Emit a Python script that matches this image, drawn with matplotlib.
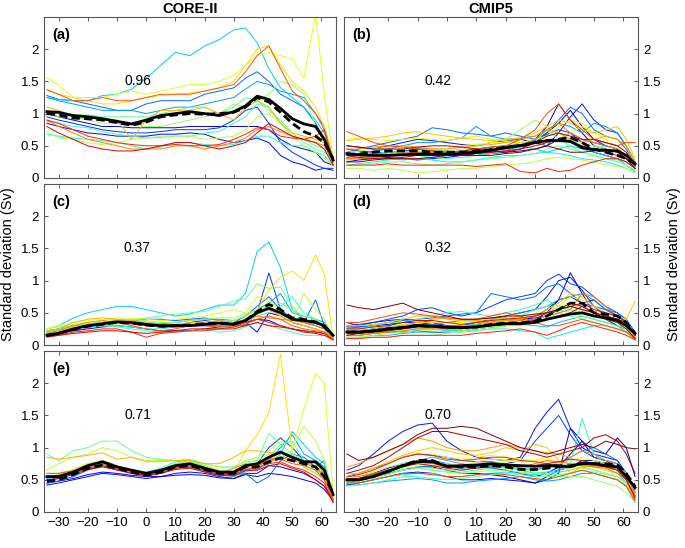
import numpy as np
import matplotlib
matplotlib.use("Agg")
import matplotlib.pyplot as plt

plt.rcParams['font.family'] = ['Liberation Sans', 'DejaVu Sans']

# latitude grid (finer in the north where the curves change fast)
lat = [-34, -30, -25, -20, -15, -10, -5, 0, 5, 10, 15, 20, 25, 30, 34, 38, 42, 46, 50, 54, 58, 61, 64]

# ---- CORE-II, panel (a): models ordered roughly blue -> red
core_a = [
    [1.0, 0.95, 0.9, 0.85, 0.8, 0.8, 0.78, 0.78, 0.78, 0.78, 0.8, 0.8, 0.8, 0.8, 0.8, 0.8, 0.75, 0.6, 0.5, 0.45, 0.4, 0.25, 0.2],
    [0.85, 0.8, 0.75, 0.7, 0.68, 0.65, 0.65, 0.65, 0.68, 0.68, 0.7, 0.68, 0.6, 0.55, 0.58, 0.62, 0.55, 0.35, 0.25, 0.2, 0.12, 0.15, 0.12],
    [0.95, 0.9, 0.85, 0.8, 0.75, 0.72, 0.7, 0.7, 0.72, 0.75, 0.75, 0.75, 0.78, 0.9, 1.05, 1.1, 0.85, 0.55, 0.4, 0.3, 0.2, 0.15, 0.15],
    [1.28, 1.22, 1.2, 1.15, 1.1, 1.05, 1.05, 1.15, 1.2, 1.2, 1.2, 1.3, 1.35, 1.4, 1.55, 1.65, 1.5, 1.3, 1.2, 1.1, 0.85, 0.6, 0.25],
    [1.25, 1.2, 1.15, 1.1, 1.05, 1.05, 1.05, 1.0, 1.05, 1.1, 1.1, 1.15, 1.2, 1.25, 1.38, 1.5, 1.45, 1.35, 1.3, 1.25, 1.0, 0.8, 0.3],
    [1.25, 1.22, 1.2, 1.2, 1.28, 1.3, 1.38, 1.55, 1.75, 1.95, 1.9, 2.05, 2.15, 2.3, 2.33, 2.1, 1.7, 1.4, 1.25, 1.1, 0.9, 0.7, 0.3],
    [0.68, 0.65, 0.62, 0.6, 0.58, 0.55, 0.5, 0.45, 0.48, 0.55, 0.55, 0.52, 0.5, 0.52, 0.58, 0.65, 0.65, 0.55, 0.5, 0.5, 0.4, 0.35, 0.2],
    [0.88, 0.85, 0.8, 0.78, 0.72, 0.68, 0.65, 0.62, 0.63, 0.65, 0.65, 0.7, 0.72, 0.85, 0.95, 1.15, 1.1, 0.85, 0.65, 0.6, 0.5, 0.45, 0.3],
    [1.05, 1.0, 0.98, 0.98, 0.95, 0.95, 0.95, 0.95, 1.0, 1.05, 1.1, 1.1, 1.0, 1.1, 1.25, 1.2, 1.05, 0.9, 0.7, 0.55, 0.45, 0.4, 0.3],
    [1.0, 0.95, 0.95, 0.9, 0.85, 0.85, 0.82, 0.8, 0.8, 0.85, 0.9, 0.95, 1.0, 1.15, 1.1, 1.2, 1.3, 1.5, 1.45, 1.3, 0.8, 0.55, 0.3],
    [0.72, 0.62, 0.6, 0.55, 0.52, 0.55, 0.6, 0.62, 0.65, 0.65, 0.65, 0.6, 0.62, 0.65, 0.75, 0.95, 1.0, 0.85, 0.65, 0.5, 0.4, 0.3, 0.2],
    [1.55, 1.45, 1.25, 1.25, 1.25, 1.3, 1.35, 1.3, 1.35, 1.4, 1.45, 1.45, 1.5, 1.6, 1.75, 1.9, 1.95, 1.9, 1.85, 1.55, 2.55, 1.3, 0.3],
    [1.37, 1.3, 1.25, 1.2, 1.15, 1.15, 1.2, 1.25, 1.28, 1.3, 1.32, 1.35, 1.4, 1.5, 1.75, 2.0, 2.05, 1.75, 1.5, 1.35, 1.1, 0.8, 0.3],
    [1.1, 1.05, 0.95, 0.95, 0.9, 0.9, 0.6, 0.9, 1.05, 1.05, 1.05, 1.1, 1.0, 0.9, 1.1, 1.2, 1.1, 0.85, 0.7, 0.65, 0.6, 0.55, 0.25],
    [0.9, 0.8, 0.7, 0.6, 0.55, 0.5, 0.45, 0.45, 0.45, 0.5, 0.5, 0.45, 0.5, 0.55, 0.62, 0.75, 0.8, 0.72, 0.65, 0.6, 0.55, 0.5, 0.25],
    [1.37, 1.3, 1.2, 1.2, 1.25, 1.2, 1.2, 1.25, 1.3, 1.3, 1.3, 1.35, 1.4, 1.45, 1.65, 1.9, 2.05, 1.7, 1.35, 1.2, 1.0, 0.75, 0.3],
    [0.9, 0.85, 0.75, 0.65, 0.6, 0.55, 0.52, 0.5, 0.5, 0.52, 0.5, 0.5, 0.52, 0.6, 0.68, 0.78, 0.75, 0.65, 0.62, 0.6, 0.65, 0.75, 0.2],
    [0.8, 0.7, 0.6, 0.5, 0.45, 0.42, 0.42, 0.45, 0.5, 0.55, 0.55, 0.5, 0.45, 0.5, 0.55, 0.7, 0.85, 0.75, 0.65, 0.6, 0.55, 0.45, 0.2],
]
core_a_mean = [1.03, 1.02, 0.97, 0.95, 0.92, 0.88, 0.84, 0.9, 0.97, 1.0, 1.03, 1.0, 0.97, 1.03, 1.12, 1.27, 1.22, 1.08, 0.92, 0.84, 0.8, 0.6, 0.28]
core_a_obs = [1.0, 0.98, 0.93, 0.92, 0.9, 0.86, 0.82, 0.87, 0.95, 0.98, 1.0, 0.99, 1.0, 1.02, 1.1, 1.25, 1.18, 1.02, 0.85, 0.72, 0.65, 0.55, 0.3]

# ---- CORE-II, panel (c)
core_c = [
    [0.15, 0.18, 0.22, 0.25, 0.28, 0.3, 0.28, 0.25, 0.22, 0.22, 0.22, 0.25, 0.28, 0.3, 0.35, 0.4, 0.38, 0.3, 0.25, 0.22, 0.2, 0.18, 0.1],
    [0.18, 0.2, 0.25, 0.3, 0.32, 0.35, 0.33, 0.3, 0.28, 0.28, 0.3, 0.3, 0.3, 0.32, 0.35, 0.2, 0.5, 0.45, 0.35, 0.3, 0.25, 0.2, 0.1],
    [0.2, 0.22, 0.28, 0.32, 0.35, 0.38, 0.35, 0.32, 0.3, 0.3, 0.35, 0.38, 0.35, 0.3, 0.3, 0.5, 1.12, 0.55, 0.4, 0.35, 0.3, 0.25, 0.1],
    [0.22, 0.25, 0.3, 0.32, 0.33, 0.35, 0.38, 0.4, 0.4, 0.38, 0.4, 0.42, 0.38, 0.35, 0.45, 0.6, 0.75, 0.55, 0.4, 0.35, 0.7, 0.3, 0.12],
    [0.2, 0.25, 0.3, 0.32, 0.35, 0.38, 0.38, 0.35, 0.33, 0.35, 0.38, 0.4, 0.4, 0.38, 0.45, 0.55, 0.65, 0.8, 0.5, 0.45, 0.4, 0.35, 0.15],
    [0.25, 0.3, 0.42, 0.5, 0.55, 0.6, 0.6, 0.55, 0.5, 0.45, 0.48, 0.55, 0.62, 0.62, 0.8, 1.45, 1.6, 1.2, 0.55, 0.4, 0.3, 0.25, 0.1],
    [0.18, 0.2, 0.25, 0.28, 0.3, 0.3, 0.28, 0.25, 0.25, 0.28, 0.3, 0.3, 0.28, 0.3, 0.35, 0.45, 0.5, 0.6, 0.75, 0.5, 0.4, 0.3, 0.12],
    [0.2, 0.22, 0.28, 0.3, 0.3, 0.28, 0.25, 0.22, 0.2, 0.2, 0.22, 0.25, 0.2, 0.22, 0.28, 0.35, 0.3, 0.25, 0.2, 0.15, 0.15, 0.15, 0.1],
    [0.22, 0.25, 0.3, 0.33, 0.35, 0.38, 0.4, 0.42, 0.45, 0.48, 0.5, 0.52, 0.6, 0.68, 0.72, 0.95, 0.88, 0.9, 0.6, 0.4, 0.35, 0.3, 0.12],
    [0.25, 0.28, 0.32, 0.35, 0.38, 0.4, 0.4, 0.38, 0.35, 0.35, 0.38, 0.4, 0.42, 0.42, 0.48, 0.55, 0.62, 0.65, 0.55, 0.45, 0.4, 0.3, 0.12],
    [0.2, 0.22, 0.28, 0.3, 0.32, 0.33, 0.33, 0.32, 0.3, 0.3, 0.3, 0.32, 0.35, 0.38, 0.45, 0.55, 0.6, 0.45, 0.35, 0.8, 0.55, 0.4, 0.15],
    [0.25, 0.3, 0.35, 0.38, 0.4, 0.42, 0.42, 0.4, 0.38, 0.4, 0.42, 0.45, 0.5, 0.55, 0.5, 0.75, 0.7, 0.5, 0.4, 0.3, 0.25, 0.2, 0.1],
    [0.2, 0.22, 0.28, 0.32, 0.35, 0.38, 0.38, 0.35, 0.32, 0.32, 0.33, 0.35, 0.35, 0.33, 0.35, 0.55, 0.85, 1.05, 1.15, 1.0, 1.4, 1.1, 0.1],
    [0.2, 0.25, 0.35, 0.4, 0.42, 0.4, 0.38, 0.35, 0.32, 0.32, 0.35, 0.35, 0.38, 0.35, 0.4, 0.5, 0.55, 0.45, 0.35, 0.3, 0.25, 0.2, 0.1],
    [0.18, 0.22, 0.3, 0.35, 0.38, 0.35, 0.33, 0.3, 0.28, 0.28, 0.3, 0.32, 0.3, 0.32, 0.38, 0.45, 0.42, 0.4, 0.38, 0.35, 0.3, 0.25, 0.1],
    [0.15, 0.18, 0.25, 0.3, 0.33, 0.35, 0.3, 0.25, 0.22, 0.25, 0.3, 0.3, 0.28, 0.28, 0.32, 0.4, 0.45, 0.4, 0.3, 0.25, 0.22, 0.2, 0.08],
    [0.12, 0.15, 0.2, 0.22, 0.25, 0.25, 0.2, 0.12, 0.18, 0.2, 0.22, 0.22, 0.25, 0.28, 0.35, 0.4, 0.35, 0.3, 0.25, 0.22, 0.2, 0.18, 0.08],
    [0.13, 0.15, 0.18, 0.2, 0.22, 0.22, 0.2, 0.18, 0.2, 0.22, 0.25, 0.25, 0.25, 0.25, 0.3, 0.35, 0.3, 0.28, 0.25, 0.2, 0.18, 0.15, 0.08],
]
core_c_mean = [0.15, 0.18, 0.25, 0.3, 0.33, 0.36, 0.35, 0.32, 0.3, 0.3, 0.3, 0.32, 0.34, 0.32, 0.38, 0.5, 0.57, 0.5, 0.4, 0.38, 0.35, 0.3, 0.15]
core_c_obs = [0.15, 0.18, 0.24, 0.29, 0.32, 0.35, 0.34, 0.31, 0.29, 0.3, 0.31, 0.33, 0.34, 0.33, 0.38, 0.52, 0.63, 0.55, 0.42, 0.4, 0.36, 0.28, 0.15]

# ---- CORE-II, panel (e)
core_e = [
    [0.45, 0.48, 0.52, 0.58, 0.62, 0.6, 0.57, 0.55, 0.55, 0.57, 0.58, 0.57, 0.53, 0.52, 0.6, 0.6, 0.72, 0.7, 0.65, 0.6, 0.5, 0.4, 0.2],
    [0.42, 0.45, 0.5, 0.55, 0.6, 0.58, 0.55, 0.52, 0.55, 0.6, 0.62, 0.6, 0.55, 0.52, 0.58, 0.55, 0.6, 0.58, 0.55, 0.5, 0.45, 0.35, 0.18],
    [0.5, 0.52, 0.6, 0.7, 0.75, 0.7, 0.63, 0.58, 0.62, 0.7, 0.72, 0.65, 0.58, 0.58, 0.7, 0.75, 1.0, 1.15, 1.0, 0.8, 0.7, 0.55, 0.25],
    [0.45, 0.48, 0.55, 0.65, 0.72, 0.68, 0.62, 0.57, 0.6, 0.68, 0.7, 0.63, 0.57, 0.57, 0.6, 0.45, 0.55, 0.8, 0.9, 0.85, 0.7, 0.8, 0.25],
    [0.52, 0.55, 0.62, 0.72, 0.8, 0.72, 0.65, 0.6, 0.63, 0.7, 0.75, 0.68, 0.6, 0.6, 0.7, 0.65, 0.8, 1.0, 1.2, 0.9, 0.8, 0.7, 0.3],
    [0.5, 0.52, 0.6, 0.68, 0.72, 0.68, 0.62, 0.57, 0.62, 0.7, 0.72, 0.65, 0.58, 0.55, 0.65, 0.7, 0.75, 0.9, 1.25, 1.05, 0.85, 0.75, 0.3],
    [0.55, 0.58, 0.65, 0.72, 0.75, 0.7, 0.65, 0.62, 0.68, 0.78, 0.8, 0.72, 0.6, 0.55, 0.62, 0.7, 0.8, 0.85, 0.9, 0.7, 0.6, 0.5, 0.25],
    [0.55, 0.57, 0.63, 0.7, 0.75, 0.7, 0.63, 0.6, 0.65, 0.75, 0.8, 0.7, 0.62, 0.6, 0.7, 0.75, 0.85, 1.05, 1.1, 0.8, 0.65, 0.55, 0.25],
    [0.9, 0.8, 0.95, 1.0, 1.1, 1.1, 0.95, 0.85, 0.82, 0.8, 0.82, 0.75, 0.7, 0.7, 0.78, 0.8, 1.22, 1.05, 0.9, 0.8, 0.7, 0.6, 0.3],
    [0.6, 0.6, 0.65, 0.75, 0.78, 0.72, 0.65, 0.6, 0.65, 0.75, 0.78, 0.72, 0.65, 0.62, 0.75, 0.8, 0.9, 0.95, 0.85, 0.8, 0.75, 0.6, 0.25],
    [0.65, 0.75, 0.85, 0.9, 1.0, 0.95, 0.85, 0.8, 0.8, 0.8, 0.8, 0.75, 0.7, 0.68, 0.8, 0.85, 0.95, 1.1, 1.0, 1.33, 1.1, 0.8, 0.3],
    [0.55, 0.57, 0.63, 0.72, 0.78, 0.72, 0.65, 0.6, 0.65, 0.72, 0.75, 0.7, 0.62, 0.6, 0.7, 0.75, 0.85, 0.85, 0.95, 1.6, 2.15, 2.0, 0.3],
    [0.6, 0.6, 0.66, 0.75, 0.8, 0.72, 0.65, 0.6, 0.65, 0.73, 0.75, 0.68, 0.62, 0.62, 0.95, 1.2, 1.55, 2.45, 0.95, 0.7, 0.6, 0.5, 0.2],
    [0.85, 0.82, 0.85, 0.88, 0.92, 0.82, 0.85, 0.78, 0.78, 0.8, 0.8, 0.75, 0.75, 0.85, 0.95, 0.95, 0.92, 0.92, 0.85, 0.8, 0.7, 0.6, 0.3],
    [0.55, 0.57, 0.62, 0.7, 0.74, 0.68, 0.62, 0.58, 0.62, 0.7, 0.73, 0.67, 0.6, 0.68, 0.75, 0.72, 0.82, 0.85, 0.8, 0.75, 0.7, 0.55, 0.2],
    [0.6, 0.6, 0.64, 0.72, 0.78, 0.7, 0.63, 0.58, 0.63, 0.72, 0.74, 0.68, 0.6, 0.6, 0.72, 0.72, 0.8, 0.82, 0.75, 0.72, 0.65, 0.5, 0.18],
    [0.55, 0.55, 0.6, 0.68, 0.72, 0.66, 0.6, 0.56, 0.6, 0.68, 0.7, 0.64, 0.58, 0.58, 0.66, 0.68, 0.75, 0.78, 0.7, 0.65, 0.55, 0.45, 0.15],
    [0.5, 0.52, 0.58, 0.66, 0.7, 0.65, 0.6, 0.57, 0.6, 0.66, 0.68, 0.62, 0.57, 0.56, 0.64, 0.65, 0.72, 0.75, 0.68, 0.62, 0.5, 0.4, 0.15],
]
core_e_mean = [0.55, 0.55, 0.62, 0.72, 0.78, 0.7, 0.65, 0.6, 0.65, 0.72, 0.75, 0.68, 0.62, 0.62, 0.72, 0.75, 0.85, 0.93, 0.85, 0.78, 0.78, 0.65, 0.27]
core_e_obs = [0.48, 0.5, 0.58, 0.68, 0.73, 0.68, 0.62, 0.57, 0.62, 0.7, 0.72, 0.66, 0.6, 0.6, 0.7, 0.7, 0.78, 0.84, 0.8, 0.75, 0.7, 0.55, 0.3]

# ---- CMIP5, panel (b)
cmip_b = [
    [0.3, 0.32, 0.35, 0.35, 0.38, 0.4, 0.38, 0.35, 0.35, 0.38, 0.4, 0.42, 0.5, 0.6, 0.8, 1.15, 0.9, 0.7, 0.5, 0.45, 0.4, 0.3, 0.2],
    [0.45, 0.42, 0.4, 0.38, 0.4, 0.45, 0.42, 0.4, 0.42, 0.45, 0.48, 0.5, 0.52, 0.55, 0.7, 0.85, 1.05, 0.8, 0.6, 0.5, 0.45, 0.35, 0.2],
    [0.25, 0.28, 0.3, 0.32, 0.3, 0.28, 0.3, 0.32, 0.35, 0.35, 0.38, 0.4, 0.42, 0.45, 0.5, 0.6, 0.7, 0.55, 0.4, 0.35, 0.3, 0.25, 0.15],
    [0.5, 0.48, 0.45, 0.5, 0.55, 0.6, 0.58, 0.55, 0.52, 0.5, 0.55, 0.58, 0.6, 0.55, 0.5, 0.7, 0.95, 1.15, 0.9, 0.75, 0.7, 0.5, 0.25],
    [0.32, 0.35, 0.38, 0.4, 0.42, 0.45, 0.45, 0.42, 0.4, 0.42, 0.45, 0.48, 0.52, 0.58, 0.68, 0.75, 0.7, 0.6, 0.55, 0.5, 0.45, 0.35, 0.18],
    [0.4, 0.45, 0.5, 0.55, 0.6, 0.65, 0.78, 0.75, 0.7, 0.68, 0.65, 0.7, 0.65, 0.6, 0.7, 0.9, 1.1, 1.0, 0.75, 0.65, 0.6, 0.45, 0.2],
    [0.35, 0.38, 0.42, 0.45, 0.5, 0.55, 0.55, 0.58, 0.62, 0.8, 0.65, 0.6, 0.62, 0.65, 0.75, 0.85, 0.8, 0.7, 0.85, 0.8, 0.7, 0.5, 0.25],
    [0.3, 0.3, 0.32, 0.3, 0.28, 0.3, 0.32, 0.35, 0.38, 0.4, 0.42, 0.45, 0.5, 0.45, 0.4, 0.45, 0.5, 0.45, 0.4, 0.35, 0.3, 0.2, 0.1],
    [0.2, 0.22, 0.25, 0.28, 0.3, 0.3, 0.28, 0.25, 0.25, 0.28, 0.32, 0.35, 0.35, 0.38, 0.4, 0.38, 0.35, 0.3, 0.28, 0.25, 0.2, 0.15, 0.08],
    [0.35, 0.35, 0.38, 0.4, 0.42, 0.4, 0.38, 0.35, 0.38, 0.4, 0.45, 0.5, 0.55, 0.6, 0.65, 0.7, 0.6, 0.5, 0.45, 0.5, 0.45, 0.35, 0.2],
    [0.28, 0.3, 0.32, 0.35, 0.38, 0.35, 0.32, 0.3, 0.32, 0.35, 0.38, 0.42, 0.48, 0.55, 0.75, 0.6, 0.5, 0.4, 0.35, 0.3, 0.28, 0.2, 0.12],
    [0.2, 0.2, 0.22, 0.25, 0.25, 0.22, 0.2, 0.22, 0.25, 0.28, 0.3, 0.32, 0.35, 0.38, 0.45, 0.5, 0.45, 0.4, 0.35, 0.3, 0.25, 0.2, 0.12],
    [0.4, 0.42, 0.45, 0.48, 0.5, 0.48, 0.45, 0.42, 0.45, 0.5, 0.55, 0.6, 0.75, 0.9, 0.8, 0.7, 0.6, 0.55, 0.5, 0.45, 0.4, 0.3, 0.15],
    [0.15, 0.15, 0.12, 0.15, 0.12, 0.08, 0.1, 0.12, 0.15, 0.15, 0.18, 0.2, 0.22, 0.25, 0.3, 0.32, 0.3, 0.28, 0.25, 0.2, 0.18, 0.15, 0.08],
    [0.3, 0.32, 0.35, 0.38, 0.4, 0.42, 0.45, 0.45, 0.5, 0.52, 0.55, 0.55, 0.55, 0.5, 0.55, 0.6, 0.7, 0.8, 0.7, 0.6, 0.5, 0.4, 0.2],
    [0.6, 0.62, 0.6, 0.58, 0.6, 0.62, 0.6, 0.58, 0.62, 0.65, 0.6, 0.58, 0.55, 0.6, 0.65, 0.8, 0.9, 0.85, 0.7, 0.65, 0.6, 0.5, 0.25],
    [0.58, 0.6, 0.62, 0.65, 0.7, 0.72, 0.68, 0.65, 0.62, 0.6, 0.58, 0.6, 0.62, 0.7, 0.8, 0.9, 0.85, 0.75, 0.7, 0.75, 0.8, 0.6, 0.3],
    [0.45, 0.45, 0.48, 0.5, 0.5, 0.48, 0.45, 0.45, 0.48, 0.5, 0.52, 0.55, 0.6, 0.65, 0.75, 0.7, 0.6, 0.55, 0.6, 0.65, 0.6, 0.5, 0.25],
    [0.3, 0.3, 0.32, 0.35, 0.38, 0.4, 0.4, 0.38, 0.38, 0.4, 0.42, 0.45, 0.5, 0.6, 0.75, 0.85, 0.7, 0.6, 0.55, 0.5, 0.45, 0.35, 0.2],
    [0.72, 0.65, 0.55, 0.5, 0.48, 0.45, 0.42, 0.4, 0.42, 0.45, 0.48, 0.5, 0.6, 0.75, 1.0, 1.15, 0.9, 0.75, 0.6, 0.55, 0.5, 0.55, 0.55],
    [0.2, 0.2, 0.2, 0.22, 0.2, 0.2, 0.2, 0.2, 0.2, 0.18, 0.2, 0.22, 0.1, 0.08, 0.15, 0.1, 0.12, 0.2, 0.25, 0.3, 0.3, 0.25, 0.15],
    [0.35, 0.32, 0.3, 0.3, 0.32, 0.35, 0.35, 0.35, 0.35, 0.38, 0.4, 0.42, 0.45, 0.5, 0.55, 0.6, 0.55, 0.5, 0.45, 0.4, 0.35, 0.3, 0.15],
    [0.5, 0.48, 0.45, 0.45, 0.45, 0.48, 0.5, 0.5, 0.48, 0.45, 0.42, 0.4, 0.45, 0.55, 0.65, 0.7, 0.65, 0.6, 0.6, 0.55, 0.5, 0.4, 0.2],
    [0.25, 0.25, 0.28, 0.3, 0.3, 0.3, 0.32, 0.35, 0.35, 0.35, 0.35, 0.38, 0.4, 0.45, 0.5, 0.45, 0.4, 0.4, 0.42, 0.45, 0.4, 0.3, 0.15],
]
cmip_b_mean = [0.38, 0.36, 0.35, 0.35, 0.36, 0.37, 0.37, 0.37, 0.38, 0.4, 0.43, 0.47, 0.5, 0.55, 0.58, 0.58, 0.57, 0.47, 0.44, 0.43, 0.42, 0.35, 0.22]
cmip_b_obs = [0.37, 0.37, 0.4, 0.42, 0.42, 0.42, 0.4, 0.4, 0.4, 0.42, 0.44, 0.48, 0.5, 0.55, 0.58, 0.6, 0.63, 0.55, 0.45, 0.4, 0.35, 0.3, 0.22]

# ---- CMIP5, panel (d)
cmip_d = [
    [0.15, 0.15, 0.18, 0.2, 0.2, 0.22, 0.2, 0.2, 0.22, 0.25, 0.28, 0.3, 0.35, 0.4, 0.5, 0.7, 1.12, 0.8, 0.5, 0.4, 0.3, 0.25, 0.1],
    [0.22, 0.22, 0.25, 0.28, 0.3, 0.32, 0.3, 0.28, 0.3, 0.35, 0.4, 0.42, 0.38, 0.45, 0.55, 0.7, 0.75, 0.65, 0.7, 0.55, 0.45, 0.35, 0.15],
    [0.28, 0.28, 0.3, 0.32, 0.35, 0.35, 0.32, 0.3, 0.3, 0.32, 0.35, 0.38, 0.4, 0.42, 0.45, 0.55, 0.65, 0.6, 0.5, 0.45, 0.4, 0.3, 0.12],
    [0.35, 0.3, 0.35, 0.38, 0.4, 0.38, 0.35, 0.3, 0.28, 0.3, 0.4, 0.45, 0.5, 0.55, 0.75, 1.0, 1.05, 0.85, 0.6, 0.45, 0.4, 0.3, 0.15],
    [0.3, 0.32, 0.35, 0.4, 0.45, 0.55, 0.58, 0.5, 0.45, 0.5, 0.6, 0.7, 0.75, 0.8, 1.0, 1.1, 0.95, 0.9, 0.75, 0.6, 0.5, 0.4, 0.2],
    [0.25, 0.28, 0.3, 0.35, 0.38, 0.4, 0.42, 0.45, 0.48, 0.5, 0.8, 0.75, 0.7, 0.75, 0.9, 0.95, 0.8, 0.65, 0.6, 0.55, 0.5, 0.35, 0.15],
    [0.2, 0.2, 0.22, 0.25, 0.28, 0.3, 0.32, 0.35, 0.38, 0.4, 0.42, 0.45, 0.5, 0.55, 0.6, 0.7, 0.75, 0.8, 0.7, 0.55, 0.45, 0.35, 0.15],
    [0.12, 0.12, 0.15, 0.15, 0.18, 0.2, 0.2, 0.22, 0.22, 0.25, 0.28, 0.3, 0.32, 0.3, 0.28, 0.35, 0.4, 0.45, 0.4, 0.35, 0.3, 0.2, 0.08],
    [0.18, 0.18, 0.2, 0.22, 0.25, 0.25, 0.25, 0.22, 0.22, 0.22, 0.25, 0.25, 0.22, 0.2, 0.1, 0.15, 0.2, 0.25, 0.3, 0.3, 0.25, 0.2, 0.1],
    [0.22, 0.25, 0.3, 0.35, 0.35, 0.4, 0.45, 0.5, 0.52, 0.48, 0.45, 0.5, 0.55, 0.62, 0.7, 0.6, 0.55, 0.5, 0.45, 0.4, 0.35, 0.3, 0.15],
    [0.2, 0.22, 0.25, 0.28, 0.3, 0.3, 0.28, 0.28, 0.3, 0.32, 0.35, 0.4, 0.45, 0.55, 0.6, 0.55, 0.5, 0.45, 0.4, 0.35, 0.3, 0.25, 0.1],
    [0.1, 0.1, 0.12, 0.12, 0.15, 0.15, 0.15, 0.18, 0.2, 0.22, 0.25, 0.3, 0.35, 0.4, 0.45, 0.5, 0.45, 0.4, 0.35, 0.3, 0.25, 0.2, 0.1],
    [0.15, 0.15, 0.18, 0.2, 0.22, 0.25, 0.25, 0.25, 0.28, 0.3, 0.32, 0.35, 0.38, 0.35, 0.4, 0.5, 0.55, 0.5, 0.45, 0.4, 0.35, 0.25, 0.1],
    [0.12, 0.12, 0.15, 0.18, 0.2, 0.22, 0.22, 0.2, 0.22, 0.25, 0.28, 0.3, 0.3, 0.35, 0.4, 0.45, 0.5, 0.4, 0.35, 0.3, 0.25, 0.2, 0.08],
    [0.18, 0.2, 0.22, 0.25, 0.28, 0.3, 0.3, 0.3, 0.32, 0.35, 0.38, 0.4, 0.42, 0.45, 0.5, 0.6, 0.65, 0.55, 0.45, 0.4, 0.35, 0.25, 0.1],
    [0.25, 0.25, 0.28, 0.3, 0.32, 0.35, 0.35, 0.35, 0.35, 0.38, 0.4, 0.42, 0.45, 0.48, 0.5, 0.6, 0.75, 0.7, 0.6, 0.5, 0.45, 0.35, 0.15],
    [0.3, 0.3, 0.32, 0.35, 0.4, 0.45, 0.45, 0.4, 0.38, 0.35, 0.35, 0.38, 0.4, 0.45, 0.55, 0.65, 0.8, 0.75, 0.6, 0.5, 0.45, 0.4, 0.68],
    [0.2, 0.2, 0.22, 0.25, 0.3, 0.35, 0.4, 0.42, 0.4, 0.38, 0.35, 0.38, 0.4, 0.45, 0.5, 0.55, 0.6, 0.55, 0.5, 0.45, 0.4, 0.3, 0.12],
    [0.15, 0.15, 0.18, 0.2, 0.22, 0.25, 0.25, 0.25, 0.28, 0.3, 0.32, 0.35, 0.38, 0.4, 0.45, 0.5, 0.55, 0.8, 0.75, 0.6, 0.45, 0.35, 0.15],
    [0.35, 0.35, 0.4, 0.45, 0.5, 0.48, 0.45, 0.42, 0.4, 0.4, 0.45, 0.5, 0.45, 0.35, 0.3, 0.3, 0.35, 0.4, 0.35, 0.3, 0.25, 0.2, 0.1],
    [0.1, 0.1, 0.12, 0.12, 0.15, 0.15, 0.15, 0.15, 0.15, 0.18, 0.2, 0.22, 0.25, 0.2, 0.15, 0.22, 0.3, 0.35, 0.3, 0.25, 0.2, 0.15, 0.08],
    [0.25, 0.25, 0.28, 0.3, 0.35, 0.38, 0.38, 0.35, 0.32, 0.35, 0.38, 0.4, 0.42, 0.45, 0.5, 0.55, 0.6, 0.65, 0.55, 0.5, 0.45, 0.35, 0.15],
    [0.15, 0.18, 0.2, 0.22, 0.25, 0.28, 0.28, 0.25, 0.25, 0.28, 0.3, 0.32, 0.35, 0.38, 0.4, 0.45, 0.5, 0.6, 0.5, 0.4, 0.35, 0.25, 0.1],
    [0.62, 0.58, 0.55, 0.6, 0.65, 0.55, 0.5, 0.45, 0.4, 0.4, 0.42, 0.45, 0.45, 0.48, 0.5, 0.55, 0.6, 0.55, 0.5, 0.45, 0.4, 0.35, 0.15],
]
cmip_d_mean = [0.2, 0.2, 0.22, 0.25, 0.27, 0.3, 0.29, 0.28, 0.27, 0.28, 0.31, 0.33, 0.33, 0.35, 0.4, 0.44, 0.48, 0.5, 0.45, 0.42, 0.38, 0.3, 0.18]
cmip_d_obs = [0.2, 0.2, 0.22, 0.25, 0.27, 0.3, 0.29, 0.28, 0.27, 0.28, 0.32, 0.34, 0.34, 0.37, 0.45, 0.55, 0.65, 0.65, 0.5, 0.48, 0.45, 0.35, 0.18]

# ---- CMIP5, panel (f)
cmip_f = [
    [0.45, 0.48, 0.55, 0.6, 0.65, 0.7, 0.7, 0.65, 0.6, 0.6, 0.58, 0.55, 0.5, 0.45, 0.5, 0.6, 1.3, 1.1, 0.95, 0.9, 1.15, 1.0, 0.55],
    [0.5, 0.52, 0.6, 0.68, 0.75, 0.8, 0.8, 0.75, 0.7, 0.7, 0.68, 0.65, 0.6, 0.55, 0.6, 0.7, 0.9, 1.1, 0.85, 0.8, 0.75, 0.6, 0.35],
    [0.42, 0.45, 0.5, 0.55, 0.6, 0.62, 0.6, 0.55, 0.5, 0.5, 0.52, 0.5, 0.48, 0.45, 0.55, 0.65, 0.7, 0.8, 0.8, 0.75, 0.65, 0.5, 0.25],
    [0.65, 0.72, 0.9, 1.1, 1.25, 1.35, 1.38, 1.1, 0.95, 0.85, 0.82, 0.8, 0.85, 1.3, 1.55, 1.75, 1.3, 1.0, 0.9, 0.85, 0.8, 0.6, 0.3],
    [0.55, 0.6, 0.68, 0.75, 0.85, 0.9, 0.88, 0.85, 0.8, 0.78, 0.78, 0.75, 0.8, 1.1, 1.3, 1.5, 1.2, 0.95, 0.85, 0.8, 0.7, 0.55, 0.25],
    [0.48, 0.5, 0.55, 0.6, 0.65, 0.7, 0.72, 0.7, 0.68, 0.7, 0.72, 0.7, 0.68, 0.65, 0.7, 0.75, 0.85, 0.95, 1.0, 0.9, 0.8, 0.6, 0.3],
    [0.42, 0.42, 0.45, 0.48, 0.5, 0.52, 0.5, 0.45, 0.45, 0.48, 0.5, 0.52, 0.55, 0.5, 0.48, 0.5, 0.55, 0.6, 0.6, 0.55, 0.5, 0.4, 0.15],
    [0.5, 0.52, 0.58, 0.65, 0.72, 0.8, 0.85, 0.8, 0.75, 0.72, 0.7, 0.7, 0.65, 0.6, 0.62, 0.65, 0.7, 0.75, 0.7, 0.65, 0.6, 0.45, 0.2],
    [0.45, 0.45, 0.5, 0.55, 0.58, 0.6, 0.6, 0.55, 0.55, 0.58, 0.6, 0.62, 0.6, 0.58, 0.6, 0.62, 0.65, 0.7, 0.65, 0.6, 0.55, 0.45, 0.2],
    [0.5, 0.5, 0.55, 0.6, 0.65, 0.68, 0.65, 0.62, 0.62, 0.65, 0.68, 0.7, 0.68, 0.65, 0.68, 0.7, 0.75, 1.45, 0.9, 0.75, 0.65, 0.5, 0.22],
    [0.4, 0.42, 0.45, 0.5, 0.55, 0.55, 0.52, 0.5, 0.52, 0.55, 0.58, 0.6, 0.58, 0.55, 0.55, 0.55, 0.6, 0.65, 0.6, 0.55, 0.5, 0.4, 0.18],
    [0.48, 0.5, 0.55, 0.62, 0.68, 0.7, 0.68, 0.65, 0.65, 0.68, 0.7, 0.68, 0.65, 0.62, 0.6, 0.58, 0.6, 0.65, 0.62, 0.58, 0.55, 0.42, 0.2],
    [0.45, 0.48, 0.52, 0.58, 0.65, 0.68, 0.65, 0.62, 0.6, 0.62, 0.65, 0.65, 0.62, 0.6, 0.58, 0.55, 0.55, 0.55, 0.5, 0.45, 0.4, 0.3, 0.15],
    [0.55, 0.58, 0.62, 0.7, 0.75, 0.8, 0.78, 0.75, 0.72, 0.72, 0.75, 0.78, 0.8, 0.78, 0.75, 0.72, 0.7, 0.68, 0.65, 0.6, 0.55, 0.45, 0.2],
    [0.55, 0.58, 0.65, 0.75, 0.85, 0.92, 0.9, 0.85, 0.82, 0.85, 0.88, 0.85, 0.82, 0.8, 0.78, 0.75, 0.8, 0.85, 0.8, 0.75, 0.7, 0.55, 0.25],
    [0.5, 0.52, 0.58, 0.65, 0.72, 0.75, 0.72, 0.7, 0.72, 0.78, 0.82, 0.8, 0.78, 0.8, 0.85, 0.72, 0.65, 0.72, 0.7, 0.65, 0.6, 0.5, 0.22],
    [0.6, 0.6, 0.68, 0.78, 0.88, 0.95, 1.0, 0.95, 0.9, 0.88, 0.92, 1.0, 0.95, 1.05, 1.0, 0.8, 0.6, 0.7, 0.75, 0.7, 0.65, 0.5, 0.25],
    [0.7, 0.75, 0.85, 0.95, 1.05, 1.15, 1.1, 1.0, 0.95, 0.95, 1.0, 1.05, 1.0, 0.95, 0.92, 0.9, 0.85, 0.95, 0.9, 0.8, 0.75, 0.6, 0.3],
    [0.55, 0.55, 0.6, 0.65, 0.72, 0.78, 0.75, 0.72, 0.7, 0.72, 0.75, 0.72, 0.7, 0.75, 0.8, 0.78, 0.75, 0.72, 0.7, 0.68, 0.6, 0.5, 0.2],
    [0.45, 0.45, 0.5, 0.55, 0.6, 0.6, 0.58, 0.55, 0.55, 0.58, 0.6, 0.58, 0.55, 0.52, 0.5, 0.55, 0.6, 0.65, 0.6, 0.55, 0.5, 0.4, 0.18],
    [0.55, 0.58, 0.65, 0.75, 0.85, 0.9, 0.88, 0.82, 0.8, 0.82, 0.85, 0.85, 0.8, 0.78, 0.75, 0.7, 0.7, 0.75, 0.72, 0.7, 0.65, 0.5, 0.25],
    [0.5, 0.52, 0.58, 0.65, 0.7, 0.75, 0.72, 0.68, 0.65, 0.68, 0.7, 0.72, 0.7, 0.72, 0.75, 0.78, 0.82, 0.8, 0.75, 0.7, 0.65, 0.5, 0.22],
    [0.6, 0.65, 0.72, 0.85, 1.0, 1.15, 1.25, 1.25, 1.2, 1.15, 1.1, 1.05, 0.95, 0.9, 0.85, 0.9, 0.95, 1.0, 1.15, 1.2, 1.1, 0.9, 0.6],
    [0.9, 0.8, 0.85, 0.95, 1.05, 1.2, 1.3, 1.3, 1.33, 1.3, 1.2, 1.1, 1.0, 0.95, 0.9, 0.95, 1.0, 1.05, 1.0, 1.1, 1.05, 1.0, 0.98],
]
cmip_f_mean = [0.5, 0.5, 0.55, 0.63, 0.72, 0.78, 0.78, 0.71, 0.72, 0.73, 0.75, 0.73, 0.72, 0.71, 0.72, 0.72, 0.7, 0.76, 0.75, 0.72, 0.7, 0.55, 0.38]
cmip_f_obs = [0.5, 0.5, 0.55, 0.63, 0.72, 0.8, 0.8, 0.71, 0.7, 0.7, 0.72, 0.7, 0.66, 0.66, 0.68, 0.7, 0.72, 0.75, 0.75, 0.75, 0.73, 0.6, 0.4]

panel_tags = ["(a)", "(b)", "(c)", "(d)", "(e)", "(f)"]
corr_text = ["0.96", "0.42", "0.37", "0.32", "0.71", "0.70"]
xticks = [-30, -20, -10, 0, 10, 20, 30, 40, 50, 60]
yticks = [0, 0.5, 1, 1.5, 2]

panels = [
    (core_a, core_a_mean, core_a_obs),
    (cmip_b, cmip_b_mean, cmip_b_obs),
    (core_c, core_c_mean, core_c_obs),
    (cmip_d, cmip_d_mean, cmip_d_obs),
    (core_e, core_e_mean, core_e_obs),
    (cmip_f, cmip_f_mean, cmip_f_obs),
]

fig = plt.figure(figsize=(6.85, 5.48), dpi=100)
W, H = 685.0, 548.0
col_x = [(44, 292), (344, 294)]
row_y = [(17, 178), (184, 345), (351, 512)]

for k, (models, mean, obs) in enumerate(panels):
    row, col = divmod(k, 2)
    x0, w = col_x[col]
    top, bot = row_y[row]
    ax = fig.add_axes([x0 / W, 1 - bot / H, w / W, (bot - top) / H])

    n = len(models)
    if col == 0:
        colors = plt.cm.jet(np.linspace(0.08, 0.92, n))
    else:
        colors = plt.cm.jet(np.linspace(0.02, 1.0, n))
    for m, c in zip(models, colors):
        ax.plot(lat, m, color=c, lw=0.7)
    ax.plot(lat, obs, color='black', lw=2.0, ls='--', dashes=(3, 1.5))
    ax.plot(lat, mean, color='black', lw=2.0)

    ax.set_xlim(-35, 65)
    ax.set_ylim(0, 2.5)
    ax.set_xticks(xticks)
    ax.set_yticks(yticks)
    ax.set_yticklabels(['0', '0.5', '1', '1.5', '2'])
    ax.tick_params(direction='in', length=3, width=0.6, colors='#444444',
                   labelcolor='black', labelsize=9.5, top=True)
    if col == 1:
        ax.yaxis.tick_right()
        ax.yaxis.set_label_position('right')
        ax.tick_params(axis='y', direction='in', length=3, width=0.6)
    if row < 2:
        ax.set_xticklabels([])
    else:
        ax.set_xlabel('Latitude', fontsize=10.5, labelpad=1)
    if row == 1:
        ax.set_ylabel('Standard deviation (Sv)', fontsize=10.5, labelpad=4)
    if row == 0:
        ax.set_title('CORE-II' if col == 0 else 'CMIP5', fontsize=10.5,
                     fontweight='bold', pad=3)
    for s in ax.spines.values():
        s.set_color('#555555')
        s.set_linewidth(0.8)

    ax.text(0.027, 0.89, panel_tags[k], transform=ax.transAxes,
            fontsize=10.5, fontweight='bold', ha='left', va='center')
    ax.text(-3, 1.5, corr_text[k], fontsize=10, ha='center', va='center')

fig.savefig('out.png', dpi=100)
